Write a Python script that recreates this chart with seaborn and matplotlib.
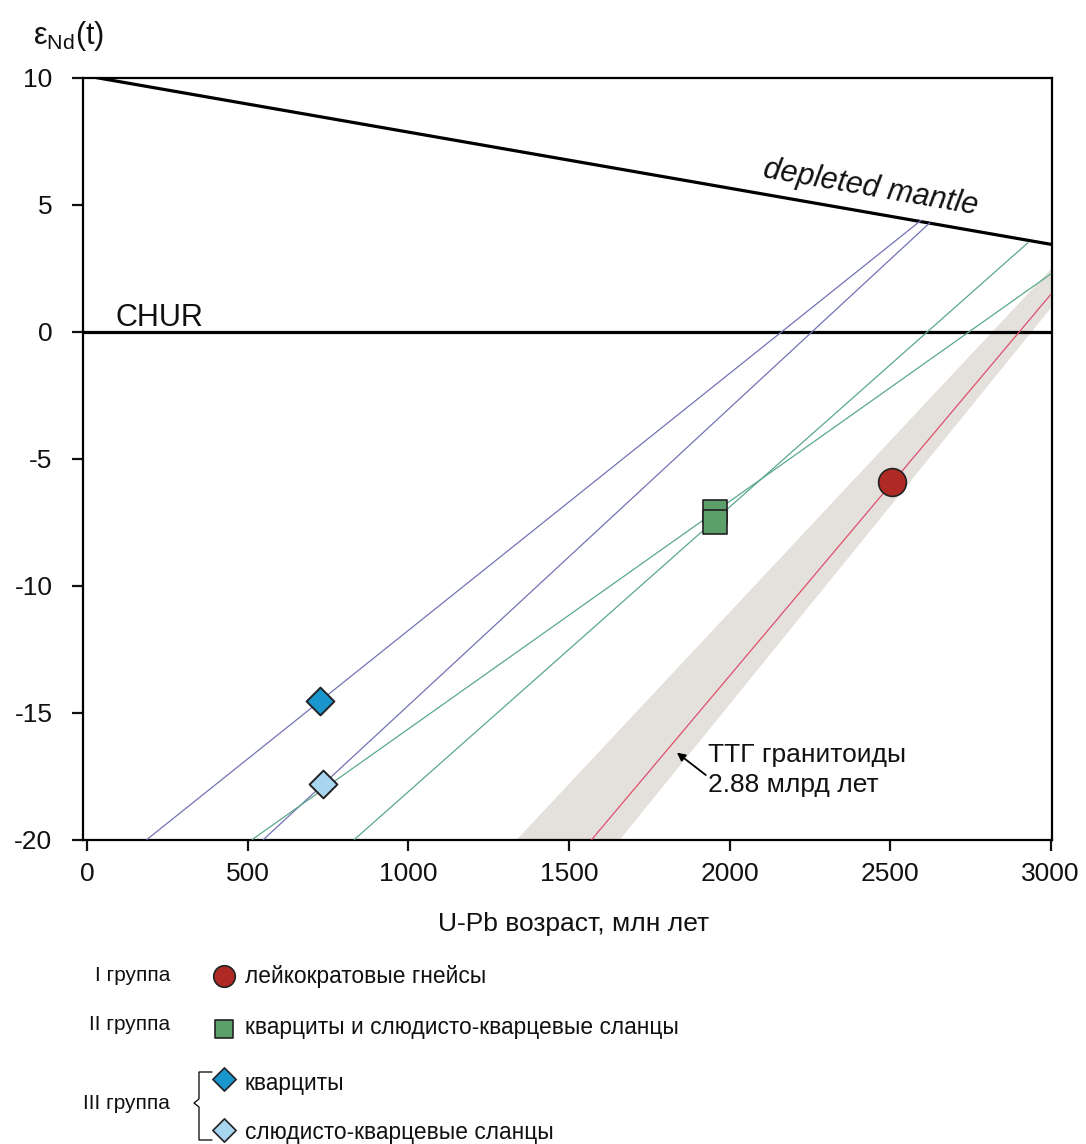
import numpy as np
import pandas as pd
import matplotlib
matplotlib.use("Agg")
import matplotlib.pyplot as plt
import seaborn as sns

sns.set_style("ticks")
plt.rcParams['font.family'] = ['Liberation Sans', 'DejaVu Sans']
plt.rcParams['axes.unicode_minus'] = False
plt.rcParams['mathtext.fontset'] = 'custom'
plt.rcParams['mathtext.rm'] = 'Liberation Sans'
plt.rcParams['text.color'] = '#111111'
plt.rcParams['axes.labelcolor'] = '#111111'
plt.rcParams['xtick.color'] = '#111111'
plt.rcParams['ytick.color'] = '#111111'

# reference lines
dm_x = [30, 3000]
dm_y = [10.0, 3.44]
chur_x = [-13, 3004]
chur_y = [0, 0]

# model evolution lines (age, eNd)
purple1_x = [186, 2596]
purple1_y = [-20.0, 4.38]
purple2_x = [549, 2623]
purple2_y = [-20.0, 4.28]
green1_x = [514, 3000]
green1_y = [-20.0, 2.27]
green2_x = [832, 2929]
green2_y = [-20.0, 3.5]
red_x = [1571, 3000]
red_y = [-20.0, 1.46]

# TTG band (polygon corners)
band_x = [1338, 1659, 3000, 3000]
band_y = [-20.0, -20.0, 0.92, 2.45]

# samples
gneiss_age = [2507]
gneiss_eps = [-5.91]
quartzite2_age = [1955, 1955]
quartzite2_eps = [-7.09, -7.49]
quartzite3_age = [725]
quartzite3_eps = [-14.54]
schist3_age = [733]
schist3_eps = [-17.82]

x_ticks = [0, 500, 1000, 1500, 2000, 2500, 3000]
y_ticks = [10, 5, 0, -5, -10, -15, -20]

c_purple = '#7373b4'
c_green = '#5aa88a'
c_red = '#e0506a'
c_band = '#e4e0dc'
c_circle = '#b02a25'
c_square = '#5c9f6b'
c_dia_dark = '#1a96cf'
c_dia_light = '#a8d5ef'
c_edge = '#222222'

W, H = 1086, 1144
fig = plt.figure(figsize=(W / 100, H / 100), dpi=100)
ax = fig.add_axes([83 / W, 1 - 839.5 / H, (1052 - 83) / W, (839.5 - 77.7) / H])

ax.fill(band_x, band_y, color=c_band, lw=0, zorder=1)

sns.lineplot(x=dm_x, y=dm_y, color='black', lw=2.3, ax=ax, zorder=3)
sns.lineplot(x=chur_x, y=chur_y, color='black', lw=2.3, ax=ax, zorder=3)

for lx, ly, c in [(purple1_x, purple1_y, c_purple), (purple2_x, purple2_y, c_purple),
                  (green1_x, green1_y, c_green), (green2_x, green2_y, c_green),
                  (red_x, red_y, c_red)]:
    sns.lineplot(x=lx, y=ly, color=c, lw=0.9, ax=ax, zorder=4)

sns.scatterplot(x=gneiss_age, y=gneiss_eps, marker='o', s=400, color=c_circle,
                edgecolor=c_edge, linewidth=1.2, ax=ax, zorder=6)
for a, e in zip(quartzite2_age, quartzite2_eps):
    sns.scatterplot(x=[a], y=[e], marker='s', s=310, color=c_square,
                    edgecolor=c_edge, linewidth=1.2, ax=ax, zorder=6)
sns.scatterplot(x=quartzite3_age, y=quartzite3_eps, marker='D', s=200, color=c_dia_dark,
                edgecolor=c_edge, linewidth=1.4, ax=ax, zorder=6)
sns.scatterplot(x=schist3_age, y=schist3_eps, marker='D', s=200, color=c_dia_light,
                edgecolor=c_edge, linewidth=1.4, ax=ax, zorder=6)

ax.set_xlim(-13, 3004)
ax.set_ylim(-20, 10)
ax.set_xticks(x_ticks)
ax.set_yticks(y_ticks)
ax.set_xlabel('')
ax.set_ylabel('')
for s in ax.spines.values():
    s.set_visible(True)
    s.set_linewidth(1.6)
    s.set_color('black')
ax.tick_params(axis='both', direction='out', length=8, width=1.6, labelsize=19,
               colors='#111111')
ax.tick_params(axis='x', pad=8)
ax.tick_params(axis='y', pad=14)

ax.text(87, 0.23, 'CHUR', fontsize=22, ha='left', va='baseline')
ax.text(2440, 5.66, 'depleted mantle', fontsize=22, style='italic', rotation=-9.9,
        rotation_mode='anchor', ha='center', va='center')
ax.text(1934, -16.94, 'ТТГ гранитоиды', fontsize=19, ha='left', va='baseline')
ax.text(1934, -18.12, '2.88 млрд лет', fontsize=19, ha='left', va='baseline')
ax.annotate('', xy=(1836, -16.58), xytext=(1926, -17.46),
            arrowprops=dict(arrowstyle='-|>', color='black', lw=1.3,
                            mutation_scale=12, shrinkA=0, shrinkB=0))

fig.text(33 / W, 1 - 44 / H, r'ε$_{\mathregular{Nd}}$(t)', fontsize=22, ha='left', va='baseline')
fig.text(574 / W, 1 - 930.7 / H, 'U-Pb возраст, млн лет', fontsize=19, ha='center', va='baseline')

# legend drawn on an overlay in pixel coordinates
lg = fig.add_axes([0, 0, 1, 1], zorder=-1)
lg.set_xlim(0, W)
lg.set_ylim(H, 0)
lg.axis('off')

groups = ['I группа', 'II группа', 'III группа']
group_y = [981, 1030, 1109]
for g, gy in zip(groups, group_y):
    lg.text(170, gy, g, fontsize=15, ha='right', va='baseline')

leg_labels = ['лейкократовые гнейсы', 'кварциты и слюдисто-кварцевые сланцы',
              'кварциты', 'слюдисто-кварцевые сланцы']
leg_text_y = [983, 1034, 1090, 1139]
leg_mark_y = [976, 1029, 1079, 1130]
leg_markers = ['o', 's', 'D', 'D']
leg_sizes = [240, 150, 140, 140]
leg_colors = [c_circle, c_square, c_dia_dark, c_dia_light]
for lab, ty, my, m, sz, c in zip(leg_labels, leg_text_y, leg_mark_y, leg_markers, leg_sizes, leg_colors):
    sns.scatterplot(x=[224], y=[my], marker=m, s=sz, color=c, edgecolor=c_edge,
                    linewidth=1.2, ax=lg, clip_on=False)
    lg.text(245, ty, lab, fontsize=16.4, ha='left', va='baseline')

lg.plot([212, 199, 199, 194, 199, 199, 212], [1072, 1072, 1099, 1103, 1107, 1140, 1140],
        color='black', lw=0.9)

fig.savefig('out.png', dpi=100)
